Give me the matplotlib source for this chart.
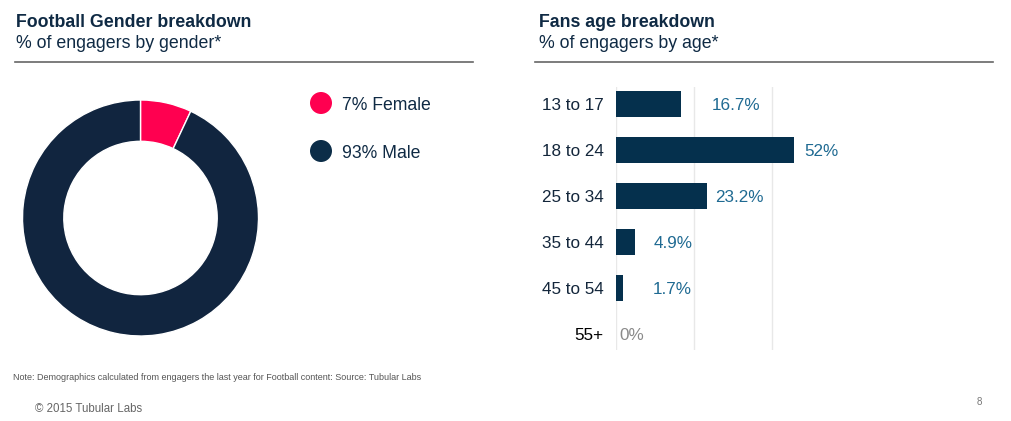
import matplotlib
matplotlib.use("Agg")
import matplotlib.pyplot as plt
from matplotlib.transforms import offset_copy

plt.rcParams['font.family'] = ['Liberation Sans', 'DejaVu Sans']

# ---------------- data ----------------
gender_labels = ["Female", "Male"]
gender_values = [7, 93]

age_groups = ["13 to 17", "18 to 24", "25 to 34", "35 to 44", "45 to 54", "55+"]
age_values = [16.7, 52, 23.2, 4.9, 1.7, 0]
age_value_labels = ["16.7%", "52%", "23.2%", "4.9%", "1.7%", "0%"]

left_title = "Football Gender breakdown"
left_subtitle = "% of engagers by gender*"
right_title = "Fans age breakdown"
right_subtitle = "% of engagers by age*"
note_text = "Note: Demographics calculated from engagers the last year for Football content: Source: Tubular Labs"
copyright_text = "\u00a9 2015 Tubular Labs"
page_number = "8"

# ---------------- style ----------------
W, H = 1012, 421
navy = "#0f2a44"
pink = "#ff0050"
male_ring = "#11253f"
male_dot = "#0c2d48"
bar_color = "#05304d"
value_color = "#1f6a92"
label_pads_px = [31, 10, 9, 18, 30, 3]
x_max = 45.6

fig = plt.figure(figsize=(W / 100, H / 100), dpi=100)


def px_axes(x0, y0, x1, y1):
    """axes from pixel box (top-left origin)"""
    return fig.add_axes([x0 / W, (H - y1) / H, (x1 - x0) / W, (y1 - y0) / H])


# overlay for text / rules
ov = px_axes(0, 0, W, H)
ov.set_xlim(0, W)
ov.set_ylim(H, 0)
ov.axis("off")

ov.text(16, 27.3, left_title, fontsize=12.8, fontweight="bold", color=navy, va="baseline")
ov.text(16, 47.7, left_subtitle, fontsize=12.8, color=navy, va="baseline")
ov.text(539, 27.3, right_title, fontsize=12.8, fontweight="bold", color=navy, va="baseline")
ov.text(539, 47.7, right_subtitle, fontsize=12.8, color=navy, va="baseline")
ov.plot([15, 473], [62, 62], color="#666666", lw=1.2)
ov.plot([535, 993], [62, 62], color="#666666", lw=1.2)

ov.text(13, 378, note_text, fontsize=6.45, color="#555555", va="center")
ov.text(35, 409, copyright_text, fontsize=8.3, color="#666666", va="center")
ov.text(979, 402, page_number, fontsize=7, color="#777777", va="center", ha="center")

# legend
legend_colors = [pink, male_dot]
for i, (lab, val) in enumerate(zip(gender_labels, gender_values)):
    y = 103 + 48 * i
    ov.scatter([321], [y], s=251, color=legend_colors[i], edgecolors="none")
    ov.text(342, y, f"{val}% {lab}", fontsize=12.7, color=navy, va="center_baseline")

# donut
ax_d = px_axes(22.5, 100, 258.5, 336)
ax_d.pie(gender_values, colors=[pink, male_ring], startangle=90, counterclock=False,
         radius=1, wedgeprops=dict(width=0.35, edgecolor="white", linewidth=1))
ax_d.set_xlim(-1, 1)
ax_d.set_ylim(-1, 1)
ax_d.set_aspect("equal")
ax_d.axis("off")

# bars
ax_b = px_axes(616, 87, 794, 350)
ypos = list(range(len(age_groups)))
ax_b.barh(ypos, age_values, height=0.56, color=bar_color, zorder=2)
ax_b.set_xlim(0, x_max)
ax_b.set_ylim(5.35, -0.37)
for g in [0, 20, 40]:
    ax_b.axvline(g, color="#e8e8e8", lw=1, zorder=1)
for s in ax_b.spines.values():
    s.set_visible(False)
ax_b.set_xticks([])
ax_b.set_yticks(ypos)
ax_b.set_yticklabels(age_groups, fontsize=12.3)
ax_b.tick_params(axis="y", length=0, pad=9)
for i, t in enumerate(ax_b.get_yticklabels()):
    t.set_color("#000000" if age_values[i] == 0 else "#13263b")

for i, (v, lab) in enumerate(zip(age_values, age_value_labels)):
    tr = offset_copy(ax_b.transData, fig=fig, x=label_pads_px[i] * 0.72, y=0, units="points")
    ax_b.text(min(v, x_max), i, lab, transform=tr, fontsize=12.3,
              color="#8a8a8a" if v == 0 else value_color,
              va="center_baseline", ha="left", clip_on=False)

fig.savefig("out.png", dpi=100)
